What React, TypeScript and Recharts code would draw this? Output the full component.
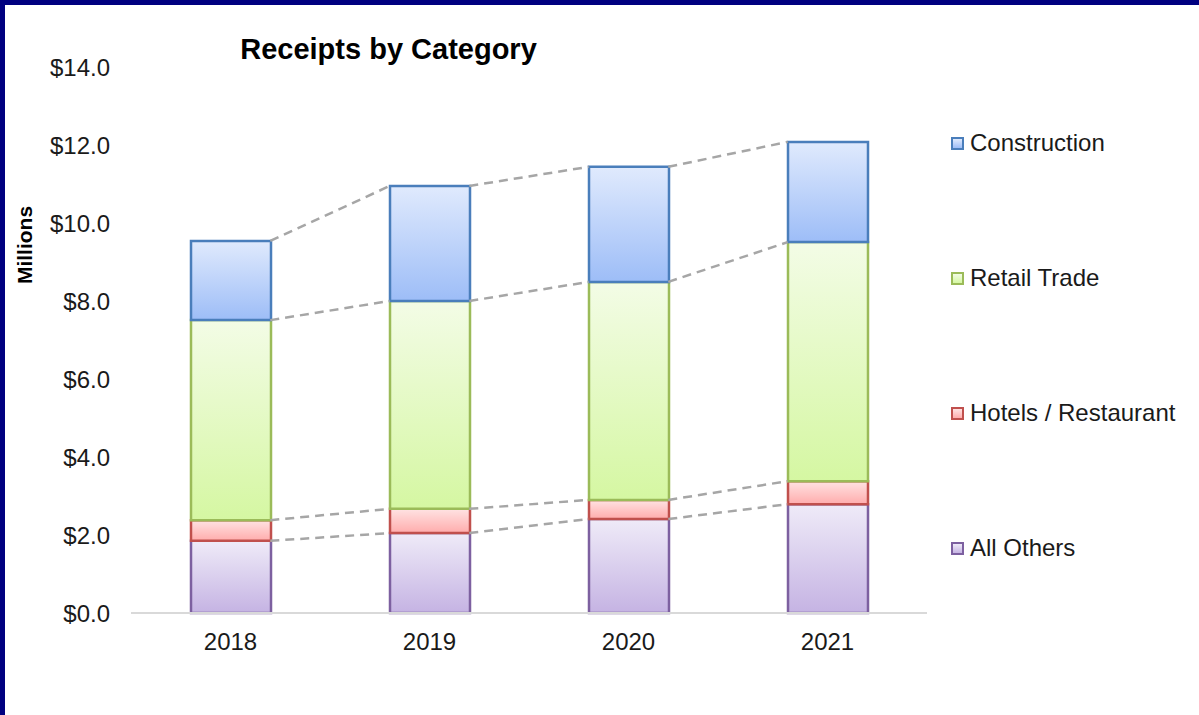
import { ComposedChart, Bar, Line, XAxis, YAxis } from 'recharts';

const years = ['2018', '2019', '2020', '2021'];
const allOthers = [1.85, 2.05, 2.41, 2.79];
const hotels = [0.53, 0.62, 0.49, 0.59];
const retail = [5.13, 5.33, 5.59, 6.13];
const construction = [2.03, 2.95, 2.95, 2.57];
const yTicks = [0, 2, 4, 6, 8, 10, 12, 14];

// bottom to top
const series = [
  { key: 'others', name: 'All Others', values: allOthers, stroke: '#7d60a0', top: '#efebf8', bottom: '#c5b3e3' },
  { key: 'hotels', name: 'Hotels / Restaurant', values: hotels, stroke: '#c0504d', top: '#ffe3e3', bottom: '#ffacac' },
  { key: 'retail', name: 'Retail Trade', values: retail, stroke: '#9bbb59', top: '#f3fce6', bottom: '#d5f7a2' },
  { key: 'construction', name: 'Construction', values: construction, stroke: '#4a7ebb', top: '#e0eafd', bottom: '#9dbdf7' },
];

const data = years.map((year, i) => {
  const row: Record<string, any> = { year };
  series.forEach((s) => (row[s.key] = s.values[i]));
  return row;
});

// dashed connectors between stack tops; half bar width in category units
const HALF = 0.2;
const connectors = series.map((s, si) => {
  const cum = years.map((_, i) =>
    series.slice(0, si + 1).reduce((acc, t) => acc + t.values[i], 0)
  );
  const pts: { x: number; y: number | null }[] = [];
  for (let i = 0; i < years.length - 1; i++) {
    pts.push({ x: i + HALF, y: cum[i] });
    pts.push({ x: i + 1 - HALF, y: cum[i + 1] });
    pts.push({ x: i + 0.5, y: null });
  }
  return { key: s.key, pts };
});

const font = '"Liberation Sans", Arial, sans-serif';
const legendCenters = [143, 278, 413, 548];

export default function App() {
  const legendItems = [...series].reverse();
  return (
    <div style={{ position: 'absolute', left: 0, top: 0, width: 1199, height: 715, background: '#fff', fontFamily: font, overflow: 'hidden' }}>
      <ComposedChart
        width={1199}
        height={715}
        data={data}
        margin={{ top: 67, right: 272, bottom: 72, left: 31 }}
      >
        <defs>
          {series.map((s) => (
            <linearGradient key={s.key} id={`g-${s.key}`} x1="0" y1="0" x2="0" y2="1">
              <stop offset="0%" stopColor={s.top} />
              <stop offset="100%" stopColor={s.bottom} />
            </linearGradient>
          ))}
        </defs>
        <XAxis
          dataKey="year"
          axisLine={{ stroke: '#d9d9d9', strokeWidth: 2 }}
          tickLine={false}
          tickSize={0}
          tickMargin={20}
          height={30}
          tick={{ fontSize: 24, fill: '#1a1a1a', fontFamily: font }}
        />
        <XAxis xAxisId="num" type="number" dataKey="x" domain={[-0.5, 3.5]} allowDataOverflow hide />
        <YAxis
          domain={[0, 14]}
          ticks={yTicks}
          width={100}
          axisLine={false}
          tickLine={false}
          tickSize={0}
          tickMargin={21}
          tickFormatter={(v: number) => `$${v.toFixed(1)}`}
          tick={{ fontSize: 24, fill: '#1a1a1a', fontFamily: font }}
        />
        {series.map((s) => (
          <Bar
            key={s.key}
            dataKey={s.key}
            name={s.name}
            stackId="a"
            barSize={80}
            fill={`url(#g-${s.key})`}
            stroke={s.stroke}
            strokeWidth={2.5}
            isAnimationActive={false}
          />
        ))}
        {connectors.map((c) => (
          <Line
            key={`l-${c.key}`}
            xAxisId="num"
            data={c.pts}
            dataKey="y"
            stroke="#a6a6a6"
            strokeWidth={2.5}
            strokeDasharray="9 6"
            dot={false}
            activeDot={false}
            legendType="none"
            connectNulls={false}
            isAnimationActive={false}
          />
        ))}
      </ComposedChart>

      <div style={{ position: 'absolute', left: 0, top: 35, width: 777, textAlign: 'center', fontSize: 29, fontWeight: 'bold', color: '#000', lineHeight: '29px' }}>
        Receipts by Category
      </div>
      <div style={{ position: 'absolute', left: 24, top: 245, transform: 'translate(-50%, -50%) rotate(-90deg)', fontSize: 21, fontWeight: 'bold', color: '#000', whiteSpace: 'nowrap', lineHeight: '21px' }}>
        Millions
      </div>

      {legendItems.map((s, i) => (
        <div key={s.key} style={{ position: 'absolute', left: 951, top: legendCenters[i] - 14, height: 28, display: 'flex', alignItems: 'center', whiteSpace: 'nowrap' }}>
          <div style={{ width: 9, height: 9, border: `2px solid ${s.stroke}`, background: `linear-gradient(${s.top}, ${s.bottom})`, marginRight: 6 }} />
          <span style={{ fontSize: 24, color: '#1a1a1a' }}>{s.name}</span>
        </div>
      ))}

      <div style={{ position: 'absolute', left: 0, top: 0, width: 1199, height: 5, background: '#000080' }} />
      <div style={{ position: 'absolute', left: 0, top: 0, width: 5, height: 715, background: '#000080' }} />
    </div>
  );
}
